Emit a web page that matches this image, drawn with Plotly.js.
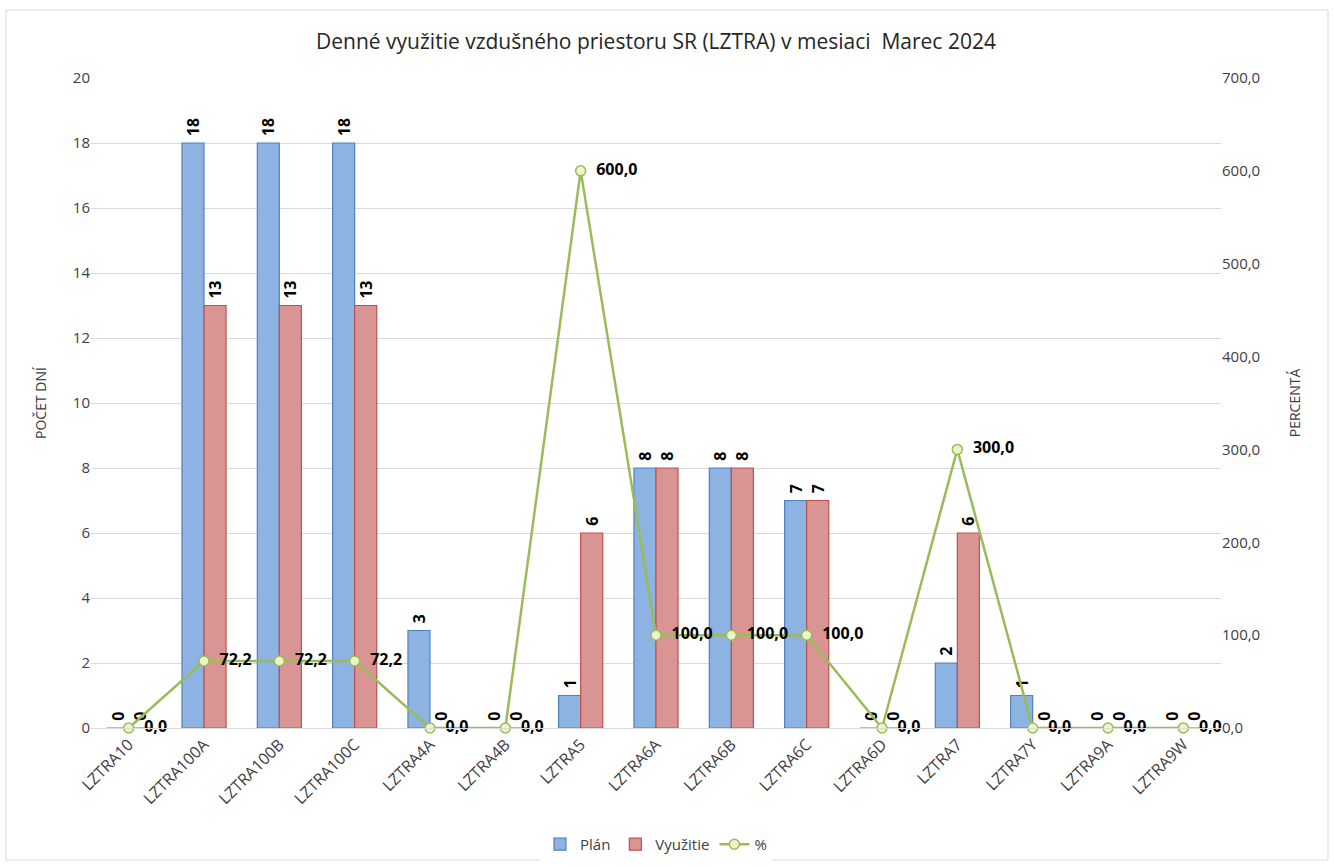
<!DOCTYPE html>
<html>
<head>
<meta charset="utf-8">
<script src="https://cdn.plot.ly/plotly-3.0.1.min.js"></script>
<style>html,body{margin:0;padding:0;background:#fff;}#chart{width:1334px;height:867px;}</style>
</head>
<body>
<div id="chart"></div>
<script>
const categories = ["LZTRA10","LZTRA100A","LZTRA100B","LZTRA100C","LZTRA4A","LZTRA4B","LZTRA5","LZTRA6A","LZTRA6B","LZTRA6C","LZTRA6D","LZTRA7","LZTRA7Y","LZTRA9A","LZTRA9W"];
const plan = [0,18,18,18,3,0,1,8,8,7,0,2,1,0,0];
const vyuzitie = [0,13,13,13,0,0,6,8,8,7,0,6,0,0,0];
const percent = [0,72.2,72.2,72.2,0,0,600,100,100,100,0,300,0,0,0];

const FONT = "Open Sans, Noto Sans, sans-serif";
const barText = {family: FONT, size: 16, color: "#000", weight: "bold"};

const traces = [
  {type:"bar", name:"Plán", x:categories, y:plan,
   marker:{color:"#8db3e2", line:{color:"#4f81bd", width:1.2}},
   text: plan.map(v => " " + v), textposition:"outside", textangle:-90,
   textfont: barText, cliponaxis:false, hoverinfo:"x+y"},
  {type:"bar", name:"Využitie", x:categories, y:vyuzitie,
   marker:{color:"#d99594", line:{color:"#c0504d", width:1.2}},
   text: vyuzitie.map(v => " " + v), textposition:"outside", textangle:-90,
   textfont: barText, cliponaxis:false, hoverinfo:"x+y"},
  {type:"scatter", mode:"lines+markers+text", name:"%", x:categories, y:percent, yaxis:"y2",
   line:{color:"#9bbb59", width:2.5},
   marker:{size:10, color:"#ebf5c8", line:{color:"#9bbb59", width:1.5}},
   texttemplate:"  %{y:.1f}", textposition:"middle right",
   textfont:{family: FONT, size:16, color:"#000", weight:"bold"}, cliponaxis:false}
];

const layout = {
  width:1334, height:867,
  margin:{l:91, r:113, t:78, b:139, autoexpand:false},
  paper_bgcolor:"#ffffff", plot_bgcolor:"#ffffff",
  separators:",.",
  font:{family:FONT, color:"#404040", size:15},
  title:{text:"Denné využitie vzdušného priestoru SR (LZTRA) v mesiaci  Marec 2024",
         x:0.5, xanchor:"center", xref:"paper", y:0.952, yref:"container", yanchor:"middle",
         font:{size:21, color:"#262626", family:FONT}},
  barmode:"group", bargap:0.415, bargroupgap:0,
  showlegend:true,
  legend:{orientation:"h", x:0.5, xanchor:"center", xref:"paper", y:0.026, yref:"container", yanchor:"middle",
          font:{size:15, color:"#404040"}},
  xaxis:{type:"category", range:[-0.5, 14.5], tickangle:-45, tickfont:{size:16, color:"#404040"}, showgrid:false,
         showline:true, linecolor:"#d9d9d9", ticks:"", zeroline:false, automargin:false},
  yaxis:{range:[0,20], dtick:2, tickformat:"d", gridcolor:"#d9d9d9", zeroline:false, automargin:false,
         showline:false, ticks:"", ticklen:0, tickfont:{size:15, color:"#404040"},
         title:{text:"POČET DNÍ", font:{size:14, color:"#404040"}, standoff:22}},
  yaxis2:{range:[0,700], dtick:100, tickformat:".1f", overlaying:"y", side:"right", automargin:false,
          showgrid:false, zeroline:false, showline:false, ticks:"", tickfont:{size:15, color:"#404040"},
          title:{text:"PERCENTÁ", font:{size:14, color:"#404040"}, standoff:30}},
  shapes:[{type:"rect", xref:"paper", yref:"paper", x0:-0.0752, x1:1.0947, y0:-0.2031, y1:1.1046,
           line:{color:"#d9d9d9", width:1}, fillcolor:"rgba(0,0,0,0)", layer:"below"}]
};

Plotly.newPlot("chart", traces, layout, {displayModeBar:false, staticPlot:true});
</script>
</body>
</html>
